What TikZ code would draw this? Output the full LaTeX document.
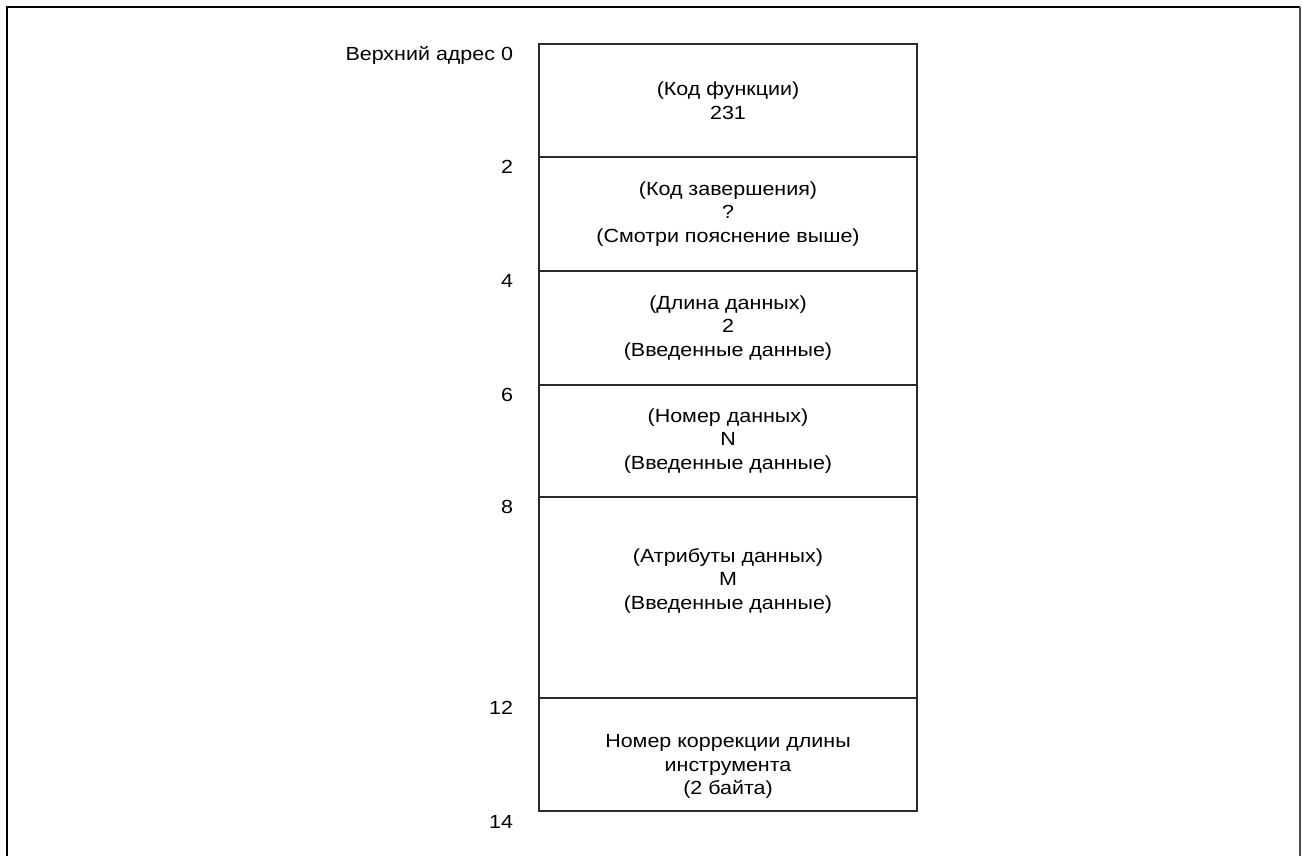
\documentclass[tikz,border=0pt]{standalone}
\usepackage{fontspec}
\setmainfont{Liberation Sans}[FakeStretch=1.13]
\usetikzlibrary{positioning}
\definecolor{LineGray}{HTML}{2B2B2B}

\begin{document}
\begin{tikzpicture}[x=1pt, y=-1pt,
  every node/.style={font=\fontsize{19}{23.5}\selectfont, inner sep=0pt, outer sep=0pt},
  field/.style={rectangle, draw=LineGray, line width=1.1pt, minimum width=378pt, align=center},
  ftext/.style={align=center},
  addr/.style={anchor=base east},
  frame/.style={draw=black, line width=2.2pt}
]
\useasboundingbox (0,0) rectangle (1302,856);

%% outer frame, open at the bottom
\draw[frame] (7,856) -- (7,7) -- (1300,7);
\draw[frame, draw=black!70, line width=1.6pt] (1300,7) -- (1300,856);

%% fields of the block
\node[field, minimum height=113pt, anchor=north] (f0) at (728,44) {(Код функции)\\231};
\node[field, minimum height=114pt, below=0pt of f0] (f1) {(Код завершения)\\?\\(Смотри пояснение выше)};
\node[field, minimum height=114pt, below=0pt of f1] (f2) {(Длина данных)\\2\\(Введенные данные)};
\node[field, minimum height=112pt, below=0pt of f2] (f3) {(Номер данных)\\N\\(Введенные данные)};
\node[field, minimum height=201pt, below=0pt of f3] (f4) {};
\node[field, minimum height=113pt, below=0pt of f4] (f5) {};
\node[ftext] (t4) at ([yshift=17pt]f4.center) {(Атрибуты данных)\\M\\(Введенные данные)};
\node[ftext] (t5) at ([yshift=-12pt]f5.center) {Номер коррекции длины\\инструмента\\(2 байта)};

%% byte offsets
\foreach \f/\t in {f0/Верхний адрес 0, f1/2, f2/4, f3/6, f4/8, f5/12} {
  \node[addr] (a\f) at ([xshift=-26pt, yshift=-16.5pt]\f.north west) {\t};
}
\node[addr] (aend) at ([xshift=-26pt, yshift=-17.5pt]f5.south west) {14};
\end{tikzpicture}
\end{document}
